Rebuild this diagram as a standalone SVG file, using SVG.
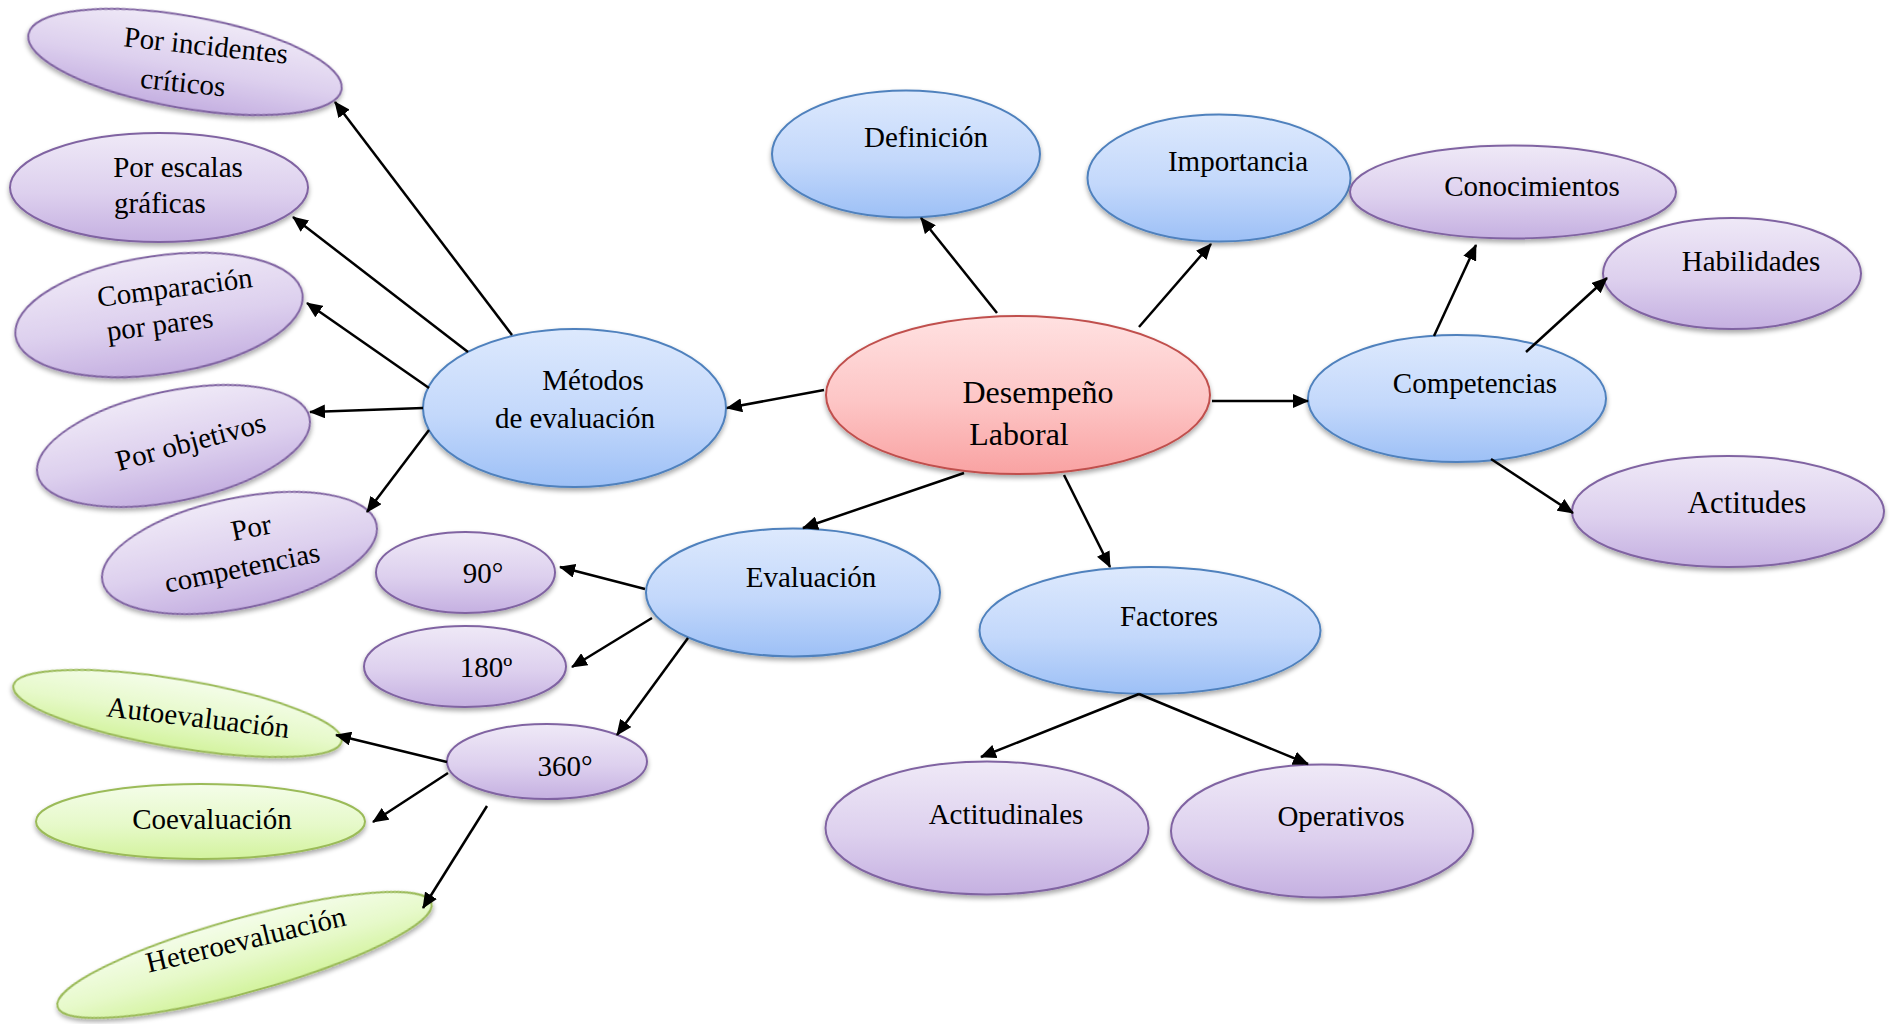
<svg xmlns="http://www.w3.org/2000/svg" width="1896" height="1024" viewBox="0 0 1896 1024">
  <defs>
    <linearGradient id="gBlue" x1="0" y1="0" x2="0" y2="1">
      <stop offset="0" stop-color="#dde9fd"/>
      <stop offset="0.55" stop-color="#c3d8fb"/>
      <stop offset="1" stop-color="#9dc0f6"/>
    </linearGradient>
    <linearGradient id="gPurple" x1="0" y1="0" x2="0" y2="1">
      <stop offset="0" stop-color="#efe9f7"/>
      <stop offset="0.55" stop-color="#ddd0ee"/>
      <stop offset="1" stop-color="#c5b0e1"/>
    </linearGradient>
    <linearGradient id="gRed" x1="0" y1="0" x2="0" y2="1">
      <stop offset="0" stop-color="#ffe1e1"/>
      <stop offset="0.55" stop-color="#fdc5c5"/>
      <stop offset="1" stop-color="#f9a2a2"/>
    </linearGradient>
    <linearGradient id="gGreen" x1="0" y1="0" x2="0" y2="1">
      <stop offset="0" stop-color="#f4fde9"/>
      <stop offset="0.55" stop-color="#e6f9c9"/>
      <stop offset="1" stop-color="#d3f39e"/>
    </linearGradient>
    <filter id="shadow" x="-10%" y="-15%" width="120%" height="140%">
      <feGaussianBlur in="SourceAlpha" stdDeviation="2.5"/>
      <feOffset dx="0" dy="3" result="b"/>
      <feComponentTransfer><feFuncA type="linear" slope="0.35"/></feComponentTransfer>
      <feMerge><feMergeNode/><feMergeNode in="SourceGraphic"/></feMerge>
    </filter>
    <marker id="arrow" markerUnits="userSpaceOnUse" markerWidth="16" markerHeight="14" refX="15" refY="7" orient="auto">
      <path d="M0,0 L16,7 L0,14 z" fill="#000"/>
    </marker>
    <style>
      ellipse { stroke-width: 2; filter: url(#shadow); }
      .blue { fill: url(#gBlue); stroke: #4f81bd; }
      .purple { fill: url(#gPurple); stroke: #8064a2; }
      .red { fill: url(#gRed); stroke: #c0504d; }
      .green { fill: url(#gGreen); stroke: #9bbb59; }
      text { font-family: "Liberation Serif", "Times New Roman", serif; font-size: 29px; fill: #000; text-anchor: middle; }
      .big { font-size: 32px; }
      .mid { font-size: 31px; }
      .conn line { stroke: #000; stroke-width: 2.5; marker-end: url(#arrow); }
    </style>
  </defs>

  <rect width="1896" height="1024" fill="#fff"/>

  <!-- central topic -->
  <g id="n-desempeno">
    <ellipse class="red" cx="1018" cy="395" rx="192" ry="79"/>
    <text class="big" x="1038" y="403">Desempeño</text>
    <text class="big" x="1019" y="445">Laboral</text>
  </g>

  <!-- first level -->
  <g id="n-definicion">
    <ellipse class="blue" cx="906" cy="154" rx="134" ry="63.5"/>
    <text x="926" y="147">Definición</text>
  </g>
  <g id="n-importancia">
    <ellipse class="blue" cx="1219" cy="178" rx="131.5" ry="63.5"/>
    <text x="1238" y="171">Importancia</text>
  </g>
  <g id="n-competencias">
    <ellipse class="blue" cx="1457" cy="398.5" rx="149" ry="63.5"/>
    <text x="1475" y="393">Competencias</text>
  </g>
  <g id="n-factores">
    <ellipse class="blue" cx="1150" cy="630.5" rx="170.5" ry="63.5"/>
    <text x="1169" y="626">Factores</text>
  </g>
  <g id="n-evaluacion">
    <ellipse class="blue" cx="793" cy="592.5" rx="147" ry="64"/>
    <text x="811" y="587">Evaluación</text>
  </g>
  <g id="n-metodos">
    <ellipse class="blue" cx="574.5" cy="408" rx="151.5" ry="79"/>
    <text x="593" y="390">Métodos</text>
    <text x="575" y="428">de evaluación</text>
  </g>

  <!-- competencias -->
  <g id="n-conocimientos">
    <ellipse class="purple" cx="1513" cy="192" rx="163" ry="46.5"/>
    <text x="1532" y="196">Conocimientos</text>
  </g>
  <g id="n-habilidades">
    <ellipse class="purple" cx="1732" cy="273.5" rx="129" ry="55.5"/>
    <text x="1751" y="271">Habilidades</text>
  </g>
  <g id="n-actitudes">
    <ellipse class="purple" cx="1728" cy="511.5" rx="156" ry="55.5"/>
    <text class="mid" x="1747" y="513">Actitudes</text>
  </g>

  <!-- factores -->
  <g id="n-actitudinales">
    <ellipse class="purple" cx="987" cy="828" rx="161.5" ry="66.5"/>
    <text x="1006" y="824">Actitudinales</text>
  </g>
  <g id="n-operativos">
    <ellipse class="purple" cx="1322" cy="831" rx="151" ry="66.5"/>
    <text x="1341" y="826">Operativos</text>
  </g>

  <!-- evaluación -->
  <g id="n-90">
    <ellipse class="purple" cx="465.5" cy="572.5" rx="89.5" ry="40.5"/>
    <text x="483" y="583">90°</text>
  </g>
  <g id="n-180">
    <ellipse class="purple" cx="465" cy="666.5" rx="101" ry="40.5"/>
    <text x="486" y="677">180º</text>
  </g>
  <g id="n-360">
    <ellipse class="purple" cx="547" cy="761.5" rx="100" ry="37.5"/>
    <text x="565" y="776">360°</text>
  </g>
  <g id="n-autoevaluacion">
    <ellipse class="green" cx="177.5" cy="713.5" rx="166.5" ry="34" transform="rotate(9.6 177.5 713.5)"/>
    <text x="197" y="727" transform="rotate(6.8 197 727)">Autoevaluación</text>
  </g>
  <g id="n-coevaluacion">
    <ellipse class="green" cx="200.5" cy="821.5" rx="164.5" ry="37.5"/>
    <text x="212" y="829">Coevaluación</text>
  </g>
  <g id="n-heteroevaluacion">
    <ellipse class="green" cx="244.5" cy="955" rx="194" ry="37" transform="rotate(-15.5 244.5 955)"/>
    <text x="248" y="949" transform="rotate(-13.5 248 949)">Heteroevaluación</text>
  </g>

  <!-- métodos de evaluación -->
  <g id="n-incidentes">
    <ellipse class="purple" cx="185" cy="62" rx="159" ry="46" transform="rotate(10 185 62)"/>
    <text x="205" y="55" transform="rotate(6 205 55)">Por incidentes</text>
    <text x="182" y="92" transform="rotate(6 182 92)">críticos</text>
  </g>
  <g id="n-escalas">
    <ellipse class="purple" cx="159" cy="187.5" rx="149" ry="54.5"/>
    <text x="178" y="177">Por escalas</text>
    <text x="160" y="213">gráficas</text>
  </g>
  <g id="n-comparacion">
    <ellipse class="purple" cx="159" cy="315" rx="145" ry="59" transform="rotate(-8.4 159 315)"/>
    <text x="176" y="297" transform="rotate(-7.4 176 297)">Comparación</text>
    <text x="161" y="334" transform="rotate(-7.4 161 334)">por pares</text>
  </g>
  <g id="n-objetivos">
    <ellipse class="purple" cx="173.5" cy="446" rx="139" ry="55" transform="rotate(-11.8 173.5 446)"/>
    <text x="193" y="451" transform="rotate(-15 193 451)">Por objetivos</text>
  </g>
  <g id="n-por-competencias">
    <ellipse class="purple" cx="239.5" cy="553" rx="140" ry="55" transform="rotate(-11.8 239.5 553)"/>
    <text x="253" y="537" transform="rotate(-11.5 253 537)">Por</text>
    <text x="244" y="577" transform="rotate(-11.5 244 577)">competencias</text>
  </g>

  <!-- connectors -->
  <g id="connectors" class="conn">
    <line x1="824" y1="390" x2="727" y2="408"/>
    <line x1="997" y1="313" x2="921" y2="218"/>
    <line x1="1139" y1="327" x2="1211" y2="244"/>
    <line x1="1212" y1="401" x2="1308" y2="401"/>
    <line x1="964" y1="473" x2="803" y2="528"/>
    <line x1="1064" y1="475" x2="1110" y2="567"/>
    <line x1="1139" y1="694" x2="981" y2="757"/>
    <line x1="1139" y1="694" x2="1308" y2="764"/>
    <line x1="1434" y1="336" x2="1476" y2="245"/>
    <line x1="1526" y1="352" x2="1607" y2="278"/>
    <line x1="1491" y1="459" x2="1573" y2="513"/>
    <line x1="512" y1="335" x2="335" y2="102"/>
    <line x1="468" y1="352" x2="293" y2="217"/>
    <line x1="429" y1="388" x2="307" y2="303"/>
    <line x1="423" y1="408" x2="310" y2="412"/>
    <line x1="429" y1="430" x2="367" y2="512"/>
    <line x1="645" y1="589" x2="560" y2="567"/>
    <line x1="652" y1="618" x2="572" y2="667"/>
    <line x1="688" y1="638" x2="617" y2="735"/>
    <line x1="447" y1="762" x2="336" y2="735"/>
    <line x1="448" y1="773" x2="373" y2="822"/>
    <line x1="487" y1="806" x2="423" y2="908"/>
  </g>
</svg>
